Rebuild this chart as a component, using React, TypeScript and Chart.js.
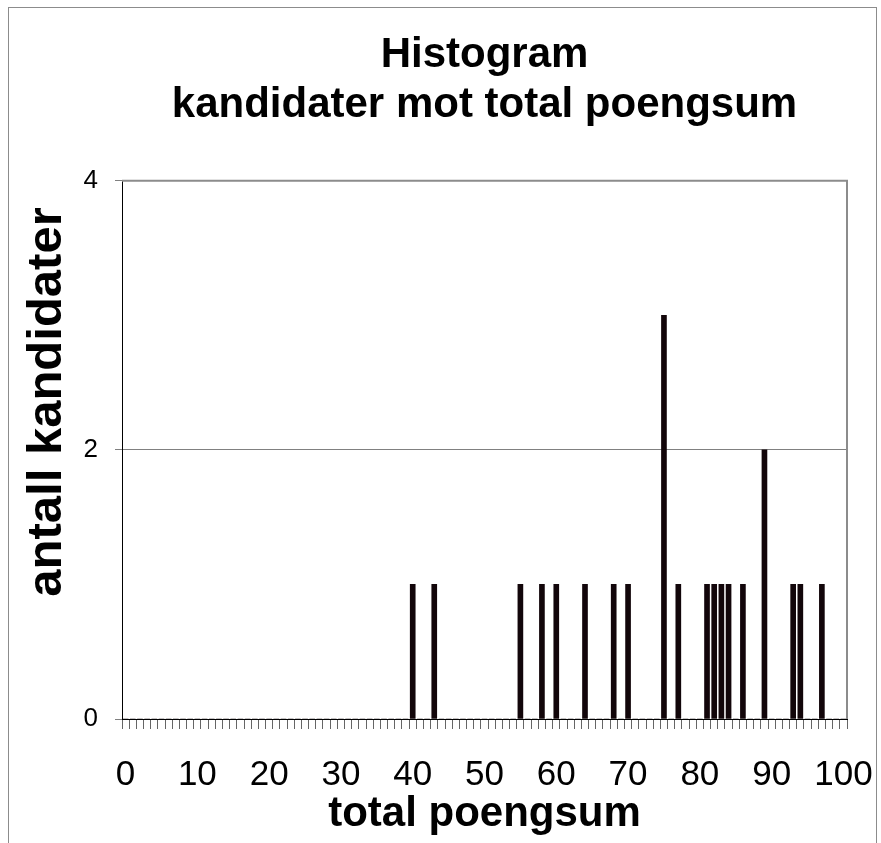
import React, { useEffect, useRef } from "react";
import { Chart, registerables } from "chart.js";

Chart.register(...registerables);

// ---- data ----
const TITLE_LINES = ["Histogram", "kandidater mot total poengsum"];
const X_TITLE = "total poengsum";
const Y_TITLE = "antall kandidater";
const X_MIN = 0;
const X_MAX = 100;
const SCORES = [40, 43, 55, 58, 60, 64, 68, 70, 75, 77, 81, 82, 83, 84, 86, 89, 93, 94, 97];
const COUNTS = [1, 1, 1, 1, 1, 1, 1, 1, 3, 1, 1, 1, 1, 1, 1, 2, 1, 1, 1];
const Y_MIN = 0;
const Y_MAX = 4;
const Y_STEP = 2;
const LABEL_EVERY = 10;

const FONT = "'Liberation Sans', Arial, sans-serif";

export default function App() {
  const ref = useRef<HTMLCanvasElement | null>(null);

  useEffect(() => {
    if (!ref.current) return;
    const categories: string[] = [];
    for (let v = X_MIN; v <= X_MAX; v++) categories.push(String(v));
    const values = categories.map((c) => {
      const idx = SCORES.indexOf(Number(c));
      return idx >= 0 ? COUNTS[idx] : 0;
    });

    const framePlugin = {
      id: "frame",
      beforeDraw(chart: any) {
        const ctx = chart.ctx;
        ctx.save();
        ctx.fillStyle = "#ffffff";
        ctx.fillRect(0, 0, chart.width, chart.height);
        ctx.strokeStyle = "#8c8c8c";
        ctx.lineWidth = 1;
        ctx.strokeRect(8.5, 7.5, 868, 900);
        ctx.restore();
      },
      afterDraw(chart: any) {
        const { ctx, chartArea } = chart;
        const { left, right, top, bottom } = chartArea;
        ctx.save();
        ctx.strokeStyle = "#8c8c8c";
        ctx.lineWidth = 2;
        ctx.beginPath();
        ctx.moveTo(left, top);
        ctx.lineTo(right, top);
        ctx.lineTo(right, bottom);
        ctx.stroke();
        // y-axis title
        ctx.fillStyle = "#000";
        ctx.font = `bold 49px ${FONT}`;
        ctx.textAlign = "center";
        ctx.textBaseline = "middle";
        ctx.translate(47, 402);
        ctx.rotate(-Math.PI / 2);
        ctx.fillText(Y_TITLE, 0, 0);
        ctx.restore();
      },
    };

    const chart = new Chart(ref.current, {
      type: "bar",
      data: {
        labels: categories,
        datasets: [
          {
            data: values,
            backgroundColor: "#12060a",
            borderColor: "#000000",
            borderWidth: 0,
            barThickness: 5,
          },
        ],
      },
      options: {
        animation: false,
        responsive: false,
        maintainAspectRatio: false,
        layout: { padding: { left: 0, right: 34, top: 0, bottom: 0 } },
        plugins: {
          legend: { display: false },
          tooltip: { enabled: false },
          title: {
            display: true,
            text: TITLE_LINES,
            color: "#000",
            fullSize: false,
            font: { family: FONT, size: 42, weight: "bold", lineHeight: 1.2 },
            padding: { top: 30, bottom: 50 },
          },
        },
        scales: {
          x: {
            type: "category",
            afterFit(scale: any) {
              scale.height = 124;
              scale.paddingLeft = 0;
              scale.paddingRight = 0;
            },
            grid: {
              display: true,
              drawOnChartArea: false,
              drawTicks: true,
              tickLength: 10,
              color: "#666666",
              offset: true,
            },
            border: { display: true, color: "#000000", width: 1 },
            ticks: {
              autoSkip: false,
              maxRotation: 0,
              minRotation: 0,
              padding: 25,
              color: "#000",
              font: { family: FONT, size: 35 },
              callback: (_v: any, i: number) =>
                Number(categories[i]) % LABEL_EVERY === 0 ? categories[i] : "",
            },
            title: {
              display: true,
              text: X_TITLE,
              color: "#000",
              font: { family: FONT, size: 42, weight: "bold", lineHeight: 1.2 },
              padding: { top: 0, bottom: 3 },
            },
          },
          y: {
            min: Y_MIN,
            max: Y_MAX,
            afterFit(scale: any) {
              scale.width = 122;
            },
            grid: {
              color: "#808080",
              lineWidth: 1,
              tickLength: 7,
              drawTicks: true,
            },
            border: { display: true, color: "#000000", width: 1 },
            ticks: {
              stepSize: Y_STEP,
              padding: 17,
              color: "#000",
              font: { family: FONT, size: 26 },
            },
          },
        },
      },
      plugins: [framePlugin],
    });
    return () => chart.destroy();
  }, []);

  return (
    <div style={{ position: "absolute", left: 0, top: 0, width: 881, height: 843 }}>
      <canvas ref={ref} width={881} height={843} style={{ display: "block" }} />
    </div>
  );
}
